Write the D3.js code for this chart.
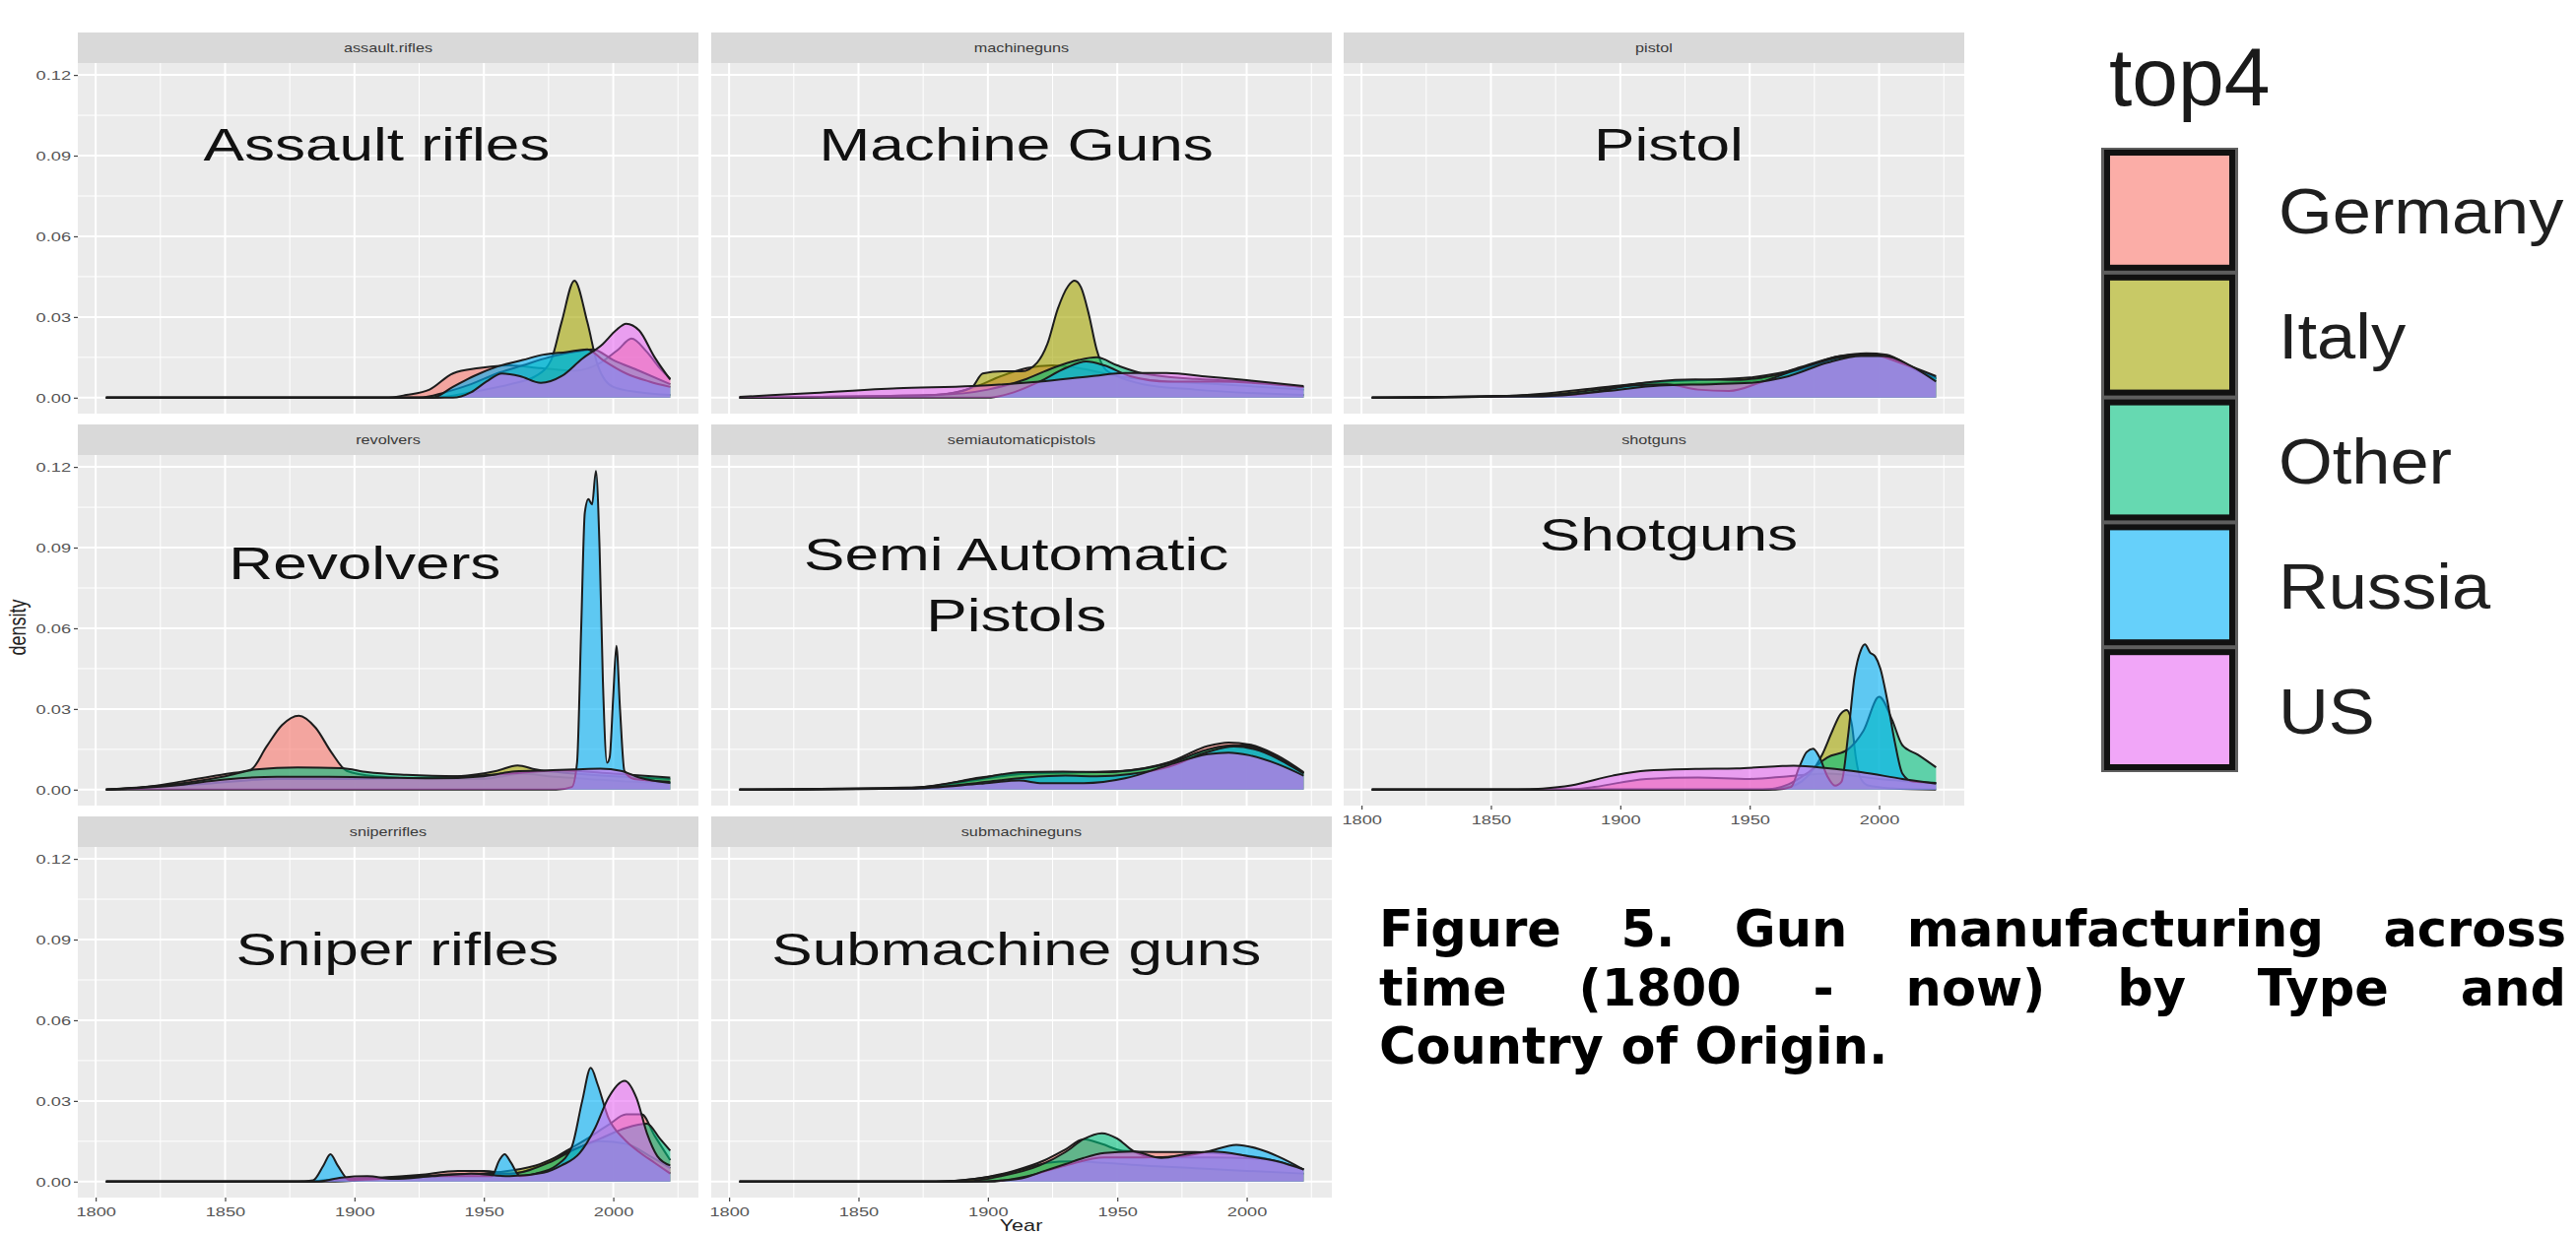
<!DOCTYPE html>
<html>
<head>
<meta charset="utf-8">
<script src="https://cdn.jsdelivr.net/npm/d3@7"></script>
<style>
  html, body { margin: 0; padding: 0; background: #ffffff; }
  svg { display: block; }
</style>
</head>
<body>
<svg id="chart" width="2615" height="1253"></svg>
<script>
// ---------------------------------------------------------------
// Categories, ticks and labels
// ---------------------------------------------------------------
const countries = ["Germany", "Italy", "Other", "Russia", "US"];
const countryColors = ["#F8766D", "#A3A500", "#00BF7D", "#00B0F6", "#E76BF3"];
const panelKeys = ["assault.rifles", "machineguns", "pistol", "revolvers",
                   "semiautomaticpistols", "shotguns", "sniperrifles", "submachineguns"];
const panelTitles = [["Assault rifles"], ["Machine Guns"], ["Pistol"], ["Revolvers"],
                     ["Semi Automatic", "Pistols"], ["Shotguns"], ["Sniper rifles"], ["Submachine guns"]];
// where each big panel title sits, in (year, density)
const titleAnchors = [[1908.6, 0.0944], [1911, 0.0944], [1918.7, 0.0944], [1904, 0.0842],
                      [1911, 0.0761], [1918.7, 0.0951], [1916.6, 0.0867], [1911, 0.0867]];
const yearTicks = [1800, 1850, 1900, 1950, 2000];
const yearMinor = [1825, 1875, 1925, 1975, 2025];
const densityTicks = [0, 0.03, 0.06, 0.09, 0.12];
const densityMinor = [0.015, 0.045, 0.075, 0.105];
const yearRange = [1804, 2022];
const legendTitle = "top4";
const captionLines = ["Figure 5. Gun manufacturing across",
                      "time (1800 - now) by Type and",
                      "Country of Origin."];

// ---------------------------------------------------------------
// Density curves: one list of [year, density] per country
// (Germany, Italy, Other, Russia, US) for each weapon type
// ---------------------------------------------------------------
const assaultRifles = [
  [[1804,0],[1912,0],[1920,0.001],[1929,0.003],[1938,0.009],[1948,0.011],[1960,0.012],[1972,0.011],[1985,0.010],[1995,0.013],[2002,0.018],[2007,0.022],[2013,0.017],[2018,0.011],[2022,0.007]],
  [[1804,0],[1930,0],[1945,0.002],[1960,0.005],[1970,0.008],[1976,0.014],[1980,0.028],[1985,0.0435],[1990,0.028],[1994,0.012],[2000,0.004],[2010,0.002],[2022,0.001]],
  [[1804,0],[1925,0],[1935,0.002],[1945,0.005],[1955,0.009],[1965,0.012],[1975,0.015],[1985,0.017],[1992,0.018],[2000,0.014],[2010,0.01],[2022,0.005]],
  [[1804,0],[1930,0],[1938,0.004],[1946,0.008],[1955,0.0115],[1965,0.014],[1973,0.016],[1982,0.017],[1990,0.018],[1996,0.014],[2005,0.009],[2014,0.006],[2022,0.004]],
  [[1804,0],[1938,0],[1945,0.002],[1951,0.006],[1957,0.009],[1964,0.008],[1972,0.0055],[1980,0.008],[1988,0.0145],[1996,0.02],[2001,0.025],[2005,0.0275],[2010,0.025],[2016,0.015],[2022,0.0067]]
];
const machineGuns = [
  [[1804,0],[1880,0.001],[1895,0.004],[1905,0.008],[1915,0.011],[1925,0.012],[1935,0.011],[1950,0.008],[1970,0.006],[1990,0.005],[2022,0.003]],
  [[1804,0],[1870,0.0005],[1888,0.002],[1894,0.004],[1898,0.009],[1906,0.0098],[1913,0.0098],[1919,0.013],[1923,0.02],[1927,0.033],[1931,0.0415],[1933.5,0.0435],[1936,0.041],[1939,0.031],[1942,0.018],[1945,0.011],[1950,0.008],[1960,0.005],[1980,0.003],[2022,0.001]],
  [[1804,0],[1880,0.001],[1900,0.003],[1915,0.007],[1925,0.011],[1935,0.014],[1942,0.015],[1950,0.012],[1960,0.009],[1980,0.007],[2000,0.006],[2022,0.004]],
  [[1804,0],[1900,0],[1910,0.002],[1920,0.006],[1930,0.011],[1938,0.0135],[1945,0.012],[1955,0.008],[1970,0.006],[1990,0.006],[2010,0.005],[2022,0.004]],
  [[1804,0.0003],[1833,0.0018],[1865,0.0035],[1894,0.0043],[1920,0.006],[1940,0.008],[1953,0.0092],[1969,0.0092],[1985,0.0078],[2000,0.0065],[2022,0.0043]]
];
const pistol = [
  [[1804,0],[1870,0.0005],[1900,0.003],[1920,0.005],[1940,0.0055],[1955,0.007],[1970,0.0115],[1985,0.0155],[1995,0.0165],[2003,0.016],[2012,0.0115],[2022,0.007]],
  [[1804,0],[1860,0.0008],[1890,0.0035],[1910,0.0055],[1930,0.0065],[1950,0.0075],[1970,0.011],[1985,0.0155],[1995,0.016],[2005,0.015],[2015,0.01],[2022,0.007]],
  [[1804,0],[1870,0.001],[1900,0.0043],[1913,0.006],[1929,0.0068],[1945,0.0066],[1955,0.0075],[1970,0.0105],[1985,0.015],[1995,0.016],[2005,0.0145],[2015,0.01],[2022,0.0075]],
  [[1804,0],[1880,0.001],[1905,0.0045],[1918,0.005],[1930,0.003],[1942,0.0025],[1955,0.006],[1970,0.011],[1985,0.015],[1997,0.016],[2008,0.013],[2022,0.008]],
  [[1804,0],[1870,0.0005],[1895,0.0025],[1915,0.0045],[1935,0.005],[1950,0.0055],[1965,0.008],[1980,0.013],[1993,0.0155],[2002,0.0155],[2012,0.012],[2022,0.006]]
];
const revolvers = [
  [[1804,0],[1816,0.0006],[1833,0.003],[1850,0.0058],[1860,0.0075],[1866,0.016],[1872,0.024],[1878.5,0.0275],[1885,0.023],[1891,0.014],[1897,0.007],[1908,0.005],[1930,0.004],[1950,0.004],[1965,0.006],[1975,0.005],[1990,0.004],[2005,0.003],[2022,0.0025]],
  [[1804,0],[1840,0.002],[1870,0.004],[1900,0.004],[1940,0.005],[1955,0.007],[1963,0.009],[1970,0.0075],[1985,0.006],[2000,0.005],[2022,0.004]],
  [[1804,0],[1830,0.002],[1850,0.005],[1862,0.0075],[1878,0.0083],[1895,0.008],[1905,0.0065],[1920,0.0055],[1940,0.005],[1960,0.006],[1980,0.0072],[2000,0.006],[2022,0.0045]],
  [[1804,0],[1978,0],[1984,0.001],[1986,0.01],[1987.6,0.06],[1989,0.103],[1990.4,0.108],[1991.8,0.106],[1993.3,0.1185],[1994.7,0.09],[1996,0.04],[1997.6,0.01],[1998.6,0.012],[2000,0.035],[2001.2,0.0535],[2002.6,0.03],[2004.3,0.007],[2008,0.004],[2022,0.003]],
  [[1804,0],[1830,0.0015],[1850,0.0038],[1870,0.0048],[1890,0.0048],[1910,0.0045],[1930,0.0042],[1950,0.005],[1962,0.0068],[1975,0.0072],[1985,0.0075],[1995,0.0078],[2003,0.007],[2010,0.0045],[2022,0.0025]]
];
const semiAutomaticPistols = [
  [[1804,0],[1860,0.0003],[1880,0.0015],[1897,0.0045],[1913,0.006],[1930,0.0062],[1950,0.0068],[1970,0.0102],[1985,0.0162],[1993,0.0175],[2001,0.0168],[2012,0.0126],[2022,0.0065]],
  [[1804,0],[1870,0.0005],[1895,0.0035],[1915,0.006],[1935,0.0065],[1955,0.007],[1975,0.0115],[1990,0.016],[2000,0.0165],[2012,0.012],[2022,0.006]],
  [[1804,0],[1870,0.0006],[1895,0.004],[1913,0.0065],[1929,0.0067],[1945,0.0065],[1955,0.0072],[1970,0.0098],[1985,0.015],[1995,0.0165],[2005,0.015],[2015,0.01],[2022,0.0062]],
  [[1804,0],[1880,0.001],[1900,0.003],[1915,0.0045],[1930,0.0052],[1942,0.005],[1955,0.0058],[1970,0.0085],[1985,0.014],[1995,0.016],[2005,0.0145],[2015,0.01],[2022,0.006]],
  [[1804,0],[1870,0.0004],[1897,0.0022],[1912,0.0034],[1921,0.0024],[1937,0.0024],[1953,0.0042],[1969,0.0089],[1985,0.0132],[1993,0.0138],[2001,0.0128],[2012,0.0095],[2022,0.0052]]
];
const shotguns = [
  [[1804,0],[1880,0],[1890,0.001],[1910,0.004],[1930,0.0045],[1950,0.004],[1965,0.005],[1980,0.006],[2000,0.004],[2022,0.0025]],
  [[1804,0],[1955,0],[1965,0.001],[1970,0.003],[1975,0.008],[1978,0.013],[1982,0.022],[1985,0.028],[1987.5,0.0296],[1989.5,0.024],[1991,0.012],[1993,0.004],[1996,0.0015],[2005,0.0005],[2022,0]],
  [[1804,0],[1955,0],[1965,0.002],[1972,0.006],[1980,0.012],[1988,0.015],[1994,0.022],[2000,0.0345],[2005,0.026],[2009,0.0165],[2015,0.013],[2022,0.0083]],
  [[1804,0],[1960,0],[1966,0.001],[1969,0.008],[1972,0.014],[1974.5,0.0152],[1977,0.012],[1980,0.005],[1983,0.0015],[1985.5,0.003],[1988,0.02],[1990.5,0.042],[1993,0.052],[1994.5,0.054],[1996.5,0.051],[1998.5,0.0495],[2000.5,0.045],[2003,0.034],[2006,0.018],[2009,0.006],[2013,0.003],[2022,0.0025]],
  [[1804,0],[1860,0],[1870,0.0004],[1881,0.0016],[1897,0.0052],[1910,0.0071],[1929,0.0077],[1945,0.0079],[1961,0.0087],[1967,0.0089],[1980,0.008],[1993,0.0065],[2009,0.004],[2022,0.0022]]
];
const sniperRifles = [
  [[1804,0],[1880,0],[1895,0.001],[1910,0.0015],[1925,0.0025],[1940,0.004],[1950,0.004],[1960,0.003],[1972,0.006],[1982,0.0115],[1990,0.016],[1998,0.021],[2005,0.025],[2011,0.025],[2016,0.017],[2022,0.008]],
  [[1804,0],[1890,0],[1910,0.001],[1930,0.002],[1950,0.003],[1970,0.006],[1985,0.012],[1995,0.015],[2005,0.014],[2015,0.009],[2022,0.005]],
  [[1804,0],[1880,0],[1900,0.001],[1925,0.002],[1945,0.003],[1960,0.003],[1975,0.007],[1985,0.012],[1995,0.016],[2005,0.02],[2013,0.0215],[2018,0.016],[2022,0.0115]],
  [[1804,0],[1878,0],[1884,0.0005],[1888,0.006],[1890.7,0.0102],[1893.5,0.006],[1898,0.0006],[1910,0.001],[1930,0.002],[1948,0.002],[1953,0.002],[1956,0.008],[1958,0.0102],[1960.5,0.007],[1964,0.002],[1970,0.003],[1978,0.006],[1984,0.013],[1988,0.03],[1991.3,0.0423],[1994,0.036],[1998,0.024],[2004,0.016],[2010,0.011],[2016,0.007],[2022,0.003]],
  [[1804,0],[1885,0],[1895,0.0015],[1905,0.002],[1915,0.001],[1930,0.002],[1945,0.003],[1960,0.002],[1973,0.0033],[1980,0.006],[1987,0.0106],[1993,0.02],[1998,0.031],[2004.4,0.0375],[2009,0.031],[2013,0.018],[2017,0.0095],[2022,0.006]]
];
const submachineGuns = [
  [[1804,0],[1880,0],[1895,0.001],[1910,0.004],[1922,0.008],[1930,0.012],[1937,0.0158],[1944,0.014],[1952,0.0115],[1965,0.011],[1980,0.011],[1990,0.0105],[2005,0.009],[2022,0.0045]],
  [[1804,0],[1880,0],[1895,0.001],[1905,0.0025],[1915,0.005],[1923,0.007],[1932,0.0075],[1945,0.007],[1960,0.006],[1980,0.005],[2000,0.004],[2022,0.003]],
  [[1804,0],[1890,0],[1905,0.002],[1920,0.006],[1930,0.011],[1937,0.0158],[1944,0.018],[1950,0.016],[1956,0.0115],[1965,0.009],[1985,0.009],[2005,0.0085],[2022,0.0045]],
  [[1804,0],[1900,0],[1915,0.002],[1930,0.006],[1945,0.009],[1960,0.009],[1975,0.0095],[1985,0.0112],[1996,0.0137],[2005,0.012],[2012,0.0094],[2022,0.0045]],
  [[1804,0],[1895,0],[1905,0.0004],[1913,0.0012],[1922,0.004],[1930,0.0065],[1937,0.0088],[1945,0.0106],[1956,0.0112],[1967,0.0088],[1978,0.0105],[1987,0.0112],[2001,0.0094],[2012,0.0075],[2022,0.0045]]
];
const panelSeries = [assaultRifles, machineGuns, pistol, revolvers,
                     semiAutomaticPistols, shotguns, sniperRifles, submachineGuns];

// ---------------------------------------------------------------
// Layout
// ---------------------------------------------------------------
const svg = d3.select("#chart");
const panelW = 630, panelH = 356, stripH = 31;
const colLeft = [79, 722, 1364];
const rowTop = [33, 431, 829];
const stretch = 1.35;              // wide lettering of the plot text
const textFont = "'Liberation Sans', Arial, sans-serif";

const dataMax = d3.max(panelSeries, p => d3.max(p, s => d3.max(s, d => d[1])));
const xPad = (yearRange[1] - yearRange[0]) * 0.05;
const x = d3.scaleLinear().domain([yearRange[0] - xPad, yearRange[1] + xPad]).range([0, panelW]);
const y = d3.scaleLinear().domain([-dataMax * 0.05, dataMax * 1.05]).range([panelH, 0]);

const area = d3.area().x(d => x(d[0])).y0(y(0)).y1(d => y(d[1])).curve(d3.curveMonotoneX);
const line = d3.line().x(d => x(d[0])).y(d => y(d[1])).curve(d3.curveMonotoneX);

svg.append("rect").attr("width", 2615).attr("height", 1253).attr("fill", "#ffffff");

function wideText(g, str, px, py, size, anchor, fill) {
  return g.append("text")
    .attr("transform", `translate(${px},${py}) scale(${stretch},1)`)
    .attr("text-anchor", anchor)
    .attr("font-family", textFont)
    .attr("font-size", size)
    .attr("fill", fill)
    .text(str);
}

panelKeys.forEach((key, i) => {
  const col = i % 3, row = Math.floor(i / 3);
  const g = svg.append("g").attr("transform", `translate(${colLeft[col]},${rowTop[row]})`);

  // strip
  g.append("rect").attr("width", panelW).attr("height", stripH).attr("fill", "#D9D9D9");
  wideText(g, key, panelW / 2, stripH / 2 + 4.3, 12, "middle", "#3a3a3a");

  const p = g.append("g").attr("transform", `translate(0,${stripH})`);
  p.append("rect").attr("width", panelW).attr("height", panelH).attr("fill", "#EBEBEB");

  // grid
  p.selectAll(".ymin").data(densityMinor).join("line")
    .attr("x1", 0).attr("x2", panelW).attr("y1", d => y(d)).attr("y2", d => y(d))
    .attr("stroke", "#ffffff").attr("stroke-width", 1);
  p.selectAll(".xmin").data(yearMinor.filter(v => x(v) <= panelW)).join("line")
    .attr("y1", 0).attr("y2", panelH).attr("x1", d => x(d)).attr("x2", d => x(d))
    .attr("stroke", "#ffffff").attr("stroke-width", 1);
  p.selectAll(".ymaj").data(densityTicks).join("line")
    .attr("x1", 0).attr("x2", panelW).attr("y1", d => y(d)).attr("y2", d => y(d))
    .attr("stroke", "#ffffff").attr("stroke-width", 2);
  p.selectAll(".xmaj").data(yearTicks).join("line")
    .attr("y1", 0).attr("y2", panelH).attr("x1", d => x(d)).attr("x2", d => x(d))
    .attr("stroke", "#ffffff").attr("stroke-width", 2);

  // densities, drawn country by country
  panelSeries[i].forEach((s, c) => {
    p.append("path").datum(s).attr("d", area)
      .attr("fill", countryColors[c]).attr("fill-opacity", 0.6);
    p.append("path").datum(s).attr("d", line)
      .attr("fill", "none").attr("stroke", "#1c1c1c").attr("stroke-width", 2)
      .attr("stroke-linejoin", "round");
  });

  // big title
  const [ty, td] = titleAnchors[i];
  const lines = panelTitles[i];
  const lead = 62;
  lines.forEach((t, k) => {
    const cy = y(td) + (k - (lines.length - 1) / 2) * lead;
    wideText(p, t, x(ty), cy + 16.5, 46, "middle", "#111111");
  });

  // axes
  if (col === 0) {
    const ax = p.append("g").call(d3.axisLeft(y).tickValues(densityTicks)
      .tickFormat(d3.format(".2f")).tickSize(4).tickPadding(3));
    ax.select(".domain").remove();
    ax.selectAll("line").attr("stroke", "#444").attr("stroke-width", 1.2);
    ax.selectAll("text").attr("font-family", textFont).attr("font-size", 13.5)
      .attr("fill", "#555").attr("x", -7 / stretch).attr("transform", `scale(${stretch},1)`);
  }
  const showX = row === 2 || (row === 1 && col === 2);
  if (showX) {
    const ax = p.append("g").attr("transform", `translate(0,${panelH})`)
      .call(d3.axisBottom(x).tickValues(yearTicks).tickFormat(d3.format("d")).tickSize(4).tickPadding(5));
    ax.select(".domain").remove();
    ax.selectAll("line").attr("stroke", "#444").attr("stroke-width", 1.2);
    ax.selectAll("text").attr("font-family", textFont).attr("font-size", 13.5)
      .attr("fill", "#555").attr("transform", `scale(${stretch},1)`);
  }
});

// axis titles
svg.append("text")
  .attr("transform", `translate(26,637) rotate(-90) scale(1,${stretch})`)
  .attr("text-anchor", "middle").attr("font-family", textFont).attr("font-size", 18)
  .attr("fill", "#222").text("density");
wideText(svg, "Year", (colLeft[0] + colLeft[2] + panelW) / 2, 1250, 16, "middle", "#222");

// ---------------------------------------------------------------
// Legend
// ---------------------------------------------------------------
const lg = svg.append("g").attr("transform", "translate(2133,0)");
lg.append("text").attr("x", 8).attr("y", 107)
  .attr("font-family", textFont).attr("font-size", 84).attr("fill", "#1a1a1a").text(legendTitle);
const keyW = 139, keyH = 126.8, keyTop = 150;
lg.append("rect").attr("x", 0).attr("y", keyTop).attr("width", keyW).attr("height", keyH * countries.length)
  .attr("fill", "#5e5e5e");
countries.forEach((name, c) => {
  const ky = keyTop + c * keyH;
  lg.append("rect").attr("x", 6).attr("y", ky + 5).attr("width", keyW - 12).attr("height", keyH - 10)
    .attr("fill", "#ffffff");
  lg.append("rect").attr("x", 6).attr("y", ky + 5).attr("width", keyW - 12).attr("height", keyH - 10)
    .attr("fill", countryColors[c]).attr("fill-opacity", 0.6)
    .attr("stroke", "#111").attr("stroke-width", 6);
  lg.append("text")
    .attr("transform", `translate(180,${ky + keyH / 2 + 24}) scale(1.1,1)`)
    .attr("font-family", textFont).attr("font-size", 64).attr("fill", "#1f1f1f").text(name);
});

// ---------------------------------------------------------------
// Caption, justified over its first two lines
// ---------------------------------------------------------------
const capLeft = 1400, capWidth = 1205, capBase = 961, capLead = 59.5;
captionLines.forEach((txt, i) => {
  const t = svg.append("text").attr("y", capBase + i * capLead)
    .attr("font-family", "'DejaVu Sans', Verdana, sans-serif").attr("font-weight", "bold")
    .attr("font-size", 51).attr("fill", "#000");
  if (i === captionLines.length - 1) { t.attr("x", capLeft).text(txt); return; }
  const words = txt.split(" ");
  const spans = words.map(w => t.append("tspan").text(w));
  const widths = spans.map(s => s.node().getComputedTextLength());
  const gap = (capWidth - d3.sum(widths)) / (words.length - 1);
  let cx = capLeft;
  spans.forEach((s, j) => { s.attr("x", cx); cx += widths[j] + gap; });
});
</script>
</body>
</html>
